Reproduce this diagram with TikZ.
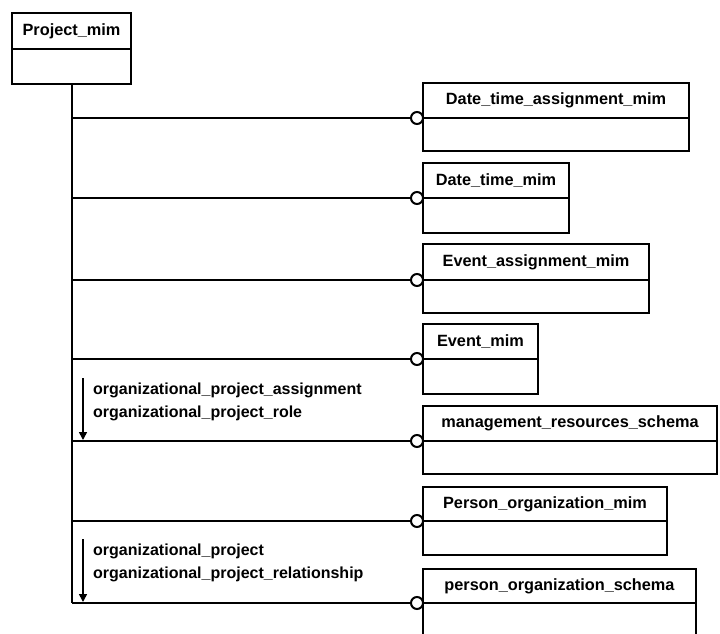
\documentclass[tikz,border=0pt]{standalone}
\usepackage{fontspec}
\setmainfont{Liberation Sans}
\usetikzlibrary{arrows.meta}
\begin{document}
\begin{tikzpicture}[x=1pt,y=-1pt,
  ent/.style={draw,line width=2.2pt},
  conn/.style={line width=2pt},
  ring/.style={draw,line width=2pt,fill=white,circle,inner sep=0pt,minimum size=12pt},
  title/.style={font=\fontsize{16.3}{19}\selectfont\bfseries,inner sep=0pt},
  lbl/.style={font=\fontsize{16}{23}\selectfont\bfseries,inner sep=0pt,anchor=north west,align=left},
  dirarrow/.style={line width=1.5pt,-{Triangle[width=8pt,length=8pt]}}]
\useasboundingbox (0,0) rectangle (720,633);
\clip (0,0) rectangle (720,633);
% Project_mim
\draw[ent] (12,13) rectangle (131,84);
\draw[ent] (12,49) -- (131,49);
\node[title] (p) at (71.5,31) {Project\_mim};
\coordinate (ptop) at (72,84);
% entity boxes: left 423
\newcommand{\entbox}[6]{%
  \draw[ent] (423,#1) rectangle (#2,#4);
  \draw[ent] (423,#3) -- (#2,#3);
  \node[title] (#5) at ({(423+#2)/2},{(#1+#3)/2}) {#6};
}
\entbox{83}{689}{118}{151}{e1}{Date\_time\_assignment\_mim}
\entbox{163}{569}{198}{233}{e2}{Date\_time\_mim}
\entbox{244}{649}{280}{313}{e3}{Event\_assignment\_mim}
\entbox{324}{538}{359}{394}{e4}{Event\_mim}
\entbox{406}{717}{441}{474}{e5}{management\_resources\_schema}
\entbox{487}{667}{521}{555}{e6}{Person\_organization\_mim}
\entbox{569}{696}{603}{645}{e7}{person\_organization\_schema}
% rings
\foreach \y/\n in {118/r1,198/r2,280/r3,359/r4,441/r5,521/r6,603/r7}{
  \node[ring] (\n) at (417,\y) {};
  \coordinate (t\n) at (72,\y);
}
% trunk
\draw[conn] (ptop) -- (tr7);
\foreach \n in {r1,r2,r3,r4,r5,r6,r7}{
  \draw[conn] (t\n) -- (\n.west);
}
% direction labels
\coordinate (a1s) at (83,378);
\coordinate (a1e) at (83,440);
\draw[dirarrow] (a1s) -- (a1e);
\node[lbl] (l1) at (93,383) {organizational\_project\_assignment\\organizational\_project\_role};
\coordinate (a2s) at (83,539);
\coordinate (a2e) at (83,602);
\draw[dirarrow] (a2s) -- (a2e);
\node[lbl] (l2) at (93,544) {organizational\_project\\organizational\_project\_relationship};
\end{tikzpicture}
\end{document}
